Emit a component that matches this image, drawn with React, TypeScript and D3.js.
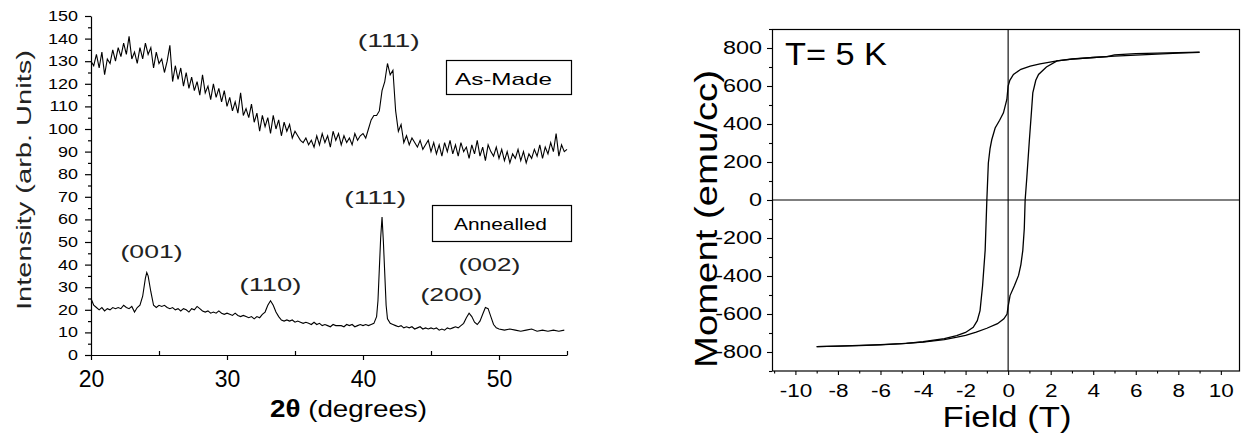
import * as d3 from 'd3';
import { useEffect, useRef } from 'react';

const FONT = '"Liberation Sans", Arial, sans-serif';

// XRD, as-made film: one reading every 0.2 degrees from 20.0 to 55.0
const asMadeStart = 20;
const asMadeStep = 0.2;
const asMade = [
  130, 128, 133, 127, 134, 124, 131, 129, 135, 130, // 20
  136, 132, 138, 133, 141, 131, 134, 129, 136, 131, // 22
  138, 133, 136, 127, 134, 129, 131, 125, 130, 137, // 24
  121, 128, 122, 127, 119, 125, 118, 123, 117, 121, // 26
  115, 124, 116, 119, 113, 120, 114, 118, 112, 117, // 28
  110, 114, 108, 112, 107, 116, 106, 109, 105, 111, // 30
  103, 107, 99, 106, 101, 105, 98, 106, 100, 104, // 32
  97, 103, 99, 102, 96, 99, 97, 95, 94, 96, // 34
  93, 95, 92, 97, 93, 98, 94, 97, 92, 99, // 36
  95, 98, 93, 97, 94, 96, 93, 98, 95, 97, // 38
  98, 96, 100, 104, 106, 106, 108, 117, 121, 129, // 40
  124, 126, 108, 99, 102, 94, 97, 93, 96, 94, // 42
  92, 95, 91, 93, 95, 90, 94, 89, 93, 88, // 44
  94, 90, 95, 89, 93, 88, 94, 90, 92, 87, // 46
  93, 89, 95, 88, 92, 86, 93, 90, 88, 92, // 48
  87, 91, 86, 90, 85, 89, 87, 91, 86, 90, // 50
  85, 89, 87, 91, 88, 93, 87, 92, 89, 94, // 52
  90, 98, 88, 93, 90, 91 // 54
];

// XRD, annealed film: [2theta, intensity]
const annealed: [number, number][] = [
  [20.0, 25], [20.2, 22], [20.4, 21], [20.6, 20], [20.8, 21], [21.0, 19.5], [21.2, 20.5],
  [21.4, 20], [21.6, 21], [21.8, 20.5], [22.0, 21], [22.2, 20.5], [22.4, 22], [22.6, 21],
  [22.8, 20.5], [23.0, 21.5], [23.2, 19], [23.4, 21], [23.6, 22], [23.8, 26], [24.0, 34],
  [24.1, 36.5], [24.2, 35], [24.4, 28], [24.6, 22], [24.8, 21], [25.0, 22], [25.2, 21.5],
  [25.4, 22], [25.6, 21], [25.8, 20.5], [26.0, 21], [26.2, 20], [26.4, 20.5], [26.6, 19.5],
  [26.8, 20.5], [27.0, 20], [27.2, 19], [27.4, 20.5], [27.6, 20], [27.8, 21.5], [28.0, 20.5],
  [28.2, 19.5], [28.4, 19], [28.6, 19.5], [28.8, 18.5], [29.0, 19], [29.2, 18.5], [29.4, 19.5],
  [29.6, 18.5], [29.8, 18], [30.0, 18.5], [30.2, 18], [30.4, 17.5], [30.6, 18.5], [30.8, 17.5],
  [31.0, 17], [31.2, 17.5], [31.4, 17], [31.6, 16.5], [31.8, 17], [32.0, 16], [32.2, 17],
  [32.4, 16.5], [32.6, 18], [32.8, 19], [33.0, 22], [33.2, 24], [33.4, 22], [33.6, 19],
  [33.8, 17], [34.0, 15.5], [34.2, 15], [34.4, 15.5], [34.6, 15], [34.8, 15.5], [35.0, 14.5],
  [35.2, 15], [35.4, 14.5], [35.6, 14], [35.8, 14.5], [36.0, 14], [36.2, 13.5], [36.4, 14.5],
  [36.6, 13.5], [36.8, 14], [37.0, 13], [37.2, 13.5], [37.4, 13], [37.6, 12.5], [37.8, 13.5],
  [38.0, 13], [38.4, 13], [38.6, 12.5], [38.8, 13.5], [39.0, 13], [39.2, 13.5], [39.4, 12.5],
  [39.6, 13], [39.8, 13.5], [40.0, 13], [40.2, 13.5], [40.4, 13], [40.6, 13.5], [40.8, 14],
  [41.0, 17], [41.1, 24], [41.2, 38], [41.3, 52], [41.4, 61], [41.5, 50], [41.6, 36],
  [41.7, 22], [41.8, 16], [42.0, 14], [42.2, 13.5], [42.4, 13], [42.6, 12.5], [42.8, 13],
  [43.0, 12], [43.2, 12.5], [43.4, 12], [43.6, 12.5], [43.8, 11.5], [44.0, 12], [44.2, 12.5],
  [44.4, 11.5], [44.6, 12], [44.8, 11.5], [45.0, 12], [45.2, 11.5], [45.4, 12], [45.6, 11],
  [45.8, 11.5], [46.0, 11], [46.2, 12], [46.4, 11.5], [46.6, 12], [46.8, 12.5], [47.0, 12],
  [47.2, 13], [47.4, 14], [47.6, 16.5], [47.8, 18.5], [48.0, 17], [48.2, 14.5], [48.4, 13.5],
  [48.6, 15], [48.8, 18], [49.0, 21], [49.2, 20.5], [49.4, 17], [49.6, 13.5], [49.8, 12],
  [50.0, 11.5], [50.4, 11], [50.8, 11.5], [51.2, 11], [51.6, 10.5], [52.0, 11], [52.4, 11.5],
  [52.8, 10.5], [53.2, 11], [53.6, 10.5], [54.0, 11], [54.4, 10.5], [54.8, 11]
];

// peak annotations: label, 2theta of label centre, intensity of label baseline
const peakLabels = ['(111)', '(111)', '(001)', '(110)', '(200)', '(002)'];
const peakTheta = [41.9, 40.9, 24.45, 33.2, 46.5, 49.3];
const peakLevel = [136.5, 66.8, 43, 28.3, 23.9, 37.2];

// M(H) loop at 5 K: [field T, moment emu/cc]
const branchDown: [number, number][] = [
  [9, 778], [8, 776], [7, 773], [6, 770], [5, 764], [4.65, 755], [4, 750], [3, 741],
  [2.3, 732], [1.5, 716], [1.04, 705], [0.6, 688], [0.25, 661], [0.08, 630], [0, 600],
  [-0.06, 529], [-0.22, 459], [-0.4, 420], [-0.61, 379], [-0.77, 317], [-0.85, 270],
  [-0.93, 195], [-1.0, 0], [-1.08, -265], [-1.2, -450], [-1.32, -582], [-1.45, -635],
  [-1.64, -670], [-2.0, -697], [-2.42, -714], [-3, -730], [-4, -746], [-4.78, -755],
  [-6, -762], [-7, -766], [-8, -769], [-9, -772]
];
const branchUp: [number, number][] = [
  [-9, -772], [-8, -769], [-7, -765], [-6, -761], [-5, -756], [-4, -748], [-3, -735],
  [-2.4, -722], [-2, -712], [-1.5, -695], [-1, -675], [-0.5, -651], [-0.2, -625],
  [-0.05, -600], [0, -560], [0.05, -530], [0.09, -503], [0.3, -450], [0.49, -397],
  [0.6, -340], [0.69, -265], [0.76, -150], [0.8, 0], [0.88, 120], [1.0, 317], [1.1, 470],
  [1.16, 564], [1.3, 630], [1.43, 661], [1.8, 700], [2.3, 732], [3, 742], [4, 750],
  [5, 757], [6, 763], [7, 768], [8, 773], [9, 777]
];

const xrdTicksY = d3.range(0, 151, 10);
const xrdTicksX = [20, 30, 40, 50];
const loopTicksY = d3.range(-800, 801, 200);
const loopTicksX = d3.range(-10, 11, 2);

// plain hyphen minus like the original, not d3's U+2212
const plain = (d: any) => String(d);

function stretch(sel: any, k: number) {
  sel.each(function (this: SVGTextElement) {
    const w = this.getComputedTextLength();
    this.setAttribute('textLength', String(w * k));
    this.setAttribute('lengthAdjust', 'spacingAndGlyphs');
  });
}

function label(g: any, txt: string, x: number, y: number, size: number, len: number, anchor = 'middle') {
  return g.append('text')
    .attr('x', x).attr('y', y)
    .attr('font-size', size)
    .attr('font-family', FONT)
    .attr('text-anchor', anchor)
    .attr('textLength', len)
    .attr('lengthAdjust', 'spacingAndGlyphs')
    .text(txt);
}

export default function App() {
  const ref = useRef<SVGSVGElement>(null);

  useEffect(() => {
    document.body.style.margin = '0';
    const svg = d3.select(ref.current);
    svg.selectAll('*').remove();
    svg.append('rect').attr('width', 1241).attr('height', 435).attr('fill', '#fff');

    // ---------- left: XRD ----------
    const x = d3.scaleLinear().domain([20, 55]).range([91, 567]);
    const y = d3.scaleLinear().domain([0, 150]).range([355, 16]);
    const left = svg.append('g');

    const yAx = left.append('g').attr('transform', 'translate(91,0)')
      .call(d3.axisLeft(y).tickValues(xrdTicksY).tickFormat(plain).tickSize(6).tickSizeOuter(0).tickPadding(7));
    yAx.attr('font-size', 14).attr('font-family', FONT);
    stretch(yAx.selectAll('text'), 1.28);
    left.append('g').attr('transform', 'translate(91,0)')
      .call(d3.axisLeft(y).tickValues(d3.range(5, 150, 10)).tickSize(3).tickFormat(() => ''))
      .select('.domain').remove();

    const xAx = left.append('g').attr('transform', 'translate(0,355)')
      .call(d3.axisBottom(x).tickValues(xrdTicksX).tickFormat(plain).tickSize(5).tickSizeOuter(0).tickPadding(11));
    xAx.attr('font-size', 23).attr('font-family', FONT);
    left.append('g').attr('transform', 'translate(0,355)')
      .call(d3.axisBottom(x).tickValues([25, 35, 45, 55]).tickSize(-4).tickFormat(() => ''))
      .select('.domain').remove();
    left.selectAll('.domain, .tick line').attr('stroke', '#000').attr('stroke-width', 1.2);

    const xrdLine = d3.line<[number, number]>().x(d => x(d[0])).y(d => y(d[1]));
    const asMadePts: [number, number][] = asMade.map((v, i) => [asMadeStart + i * asMadeStep, v]);
    left.append('path').attr('d', xrdLine(asMadePts)).attr('fill', 'none')
      .attr('stroke', '#000').attr('stroke-width', 1.1);
    left.append('path').attr('d', xrdLine(annealed)).attr('fill', 'none')
      .attr('stroke', '#000').attr('stroke-width', 1.1);

    peakLabels.forEach((t, i) => {
      label(left, t, x(peakTheta[i]), y(peakLevel[i]), 19, 62).attr('fill', '#222');
    });

    left.append('rect').attr('x', 446.5).attr('y', 60.5).attr('width', 125).attr('height', 34)
      .attr('fill', '#fff').attr('stroke', '#000').attr('stroke-width', 1.2);
    label(left, 'As-Made', 503.5, 85, 17, 97);
    left.append('rect').attr('x', 432.5).attr('y', 205.5).attr('width', 139).attr('height', 36)
      .attr('fill', '#fff').attr('stroke', '#000').attr('stroke-width', 1.2);
    label(left, 'Annealled', 500.5, 230, 17, 93);

    label(left, 'Intensity (arb. Units)', 0, 0, 20, 260)
      .attr('transform', 'translate(31,180) rotate(-90)').attr('fill', '#222');
    const xl = left.append('text').attr('x', 348.5).attr('y', 417).attr('font-size', 24)
      .attr('font-family', FONT).attr('text-anchor', 'middle')
      .attr('textLength', 157).attr('lengthAdjust', 'spacingAndGlyphs');
    xl.append('tspan').attr('font-weight', 'bold').text('2θ');
    xl.append('tspan').text(' (degrees)');

    // ---------- right: M(H) loop ----------
    const hx = d3.scaleLinear().domain([-11.1, 10.9]).range([772, 1240]);
    const hy = d3.scaleLinear().domain([-900, 900]).range([371, 29]);
    const right = svg.append('g');

    const hyAx = right.append('g').attr('transform', 'translate(772,0)')
      .call(d3.axisLeft(hy).tickValues(loopTicksY).tickFormat(plain).tickSize(5).tickSizeOuter(0).tickPadding(5));
    hyAx.attr('font-size', 18).attr('font-family', FONT);
    stretch(hyAx.selectAll('text'), 1.3);
    hyAx.select('.domain').remove();
    right.append('g').attr('transform', 'translate(772,0)')
      .call(d3.axisLeft(hy).tickValues(d3.range(-900, 901, 200)).tickSize(3).tickFormat(() => ''))
      .select('.domain').remove();

    const hxAx = right.append('g').attr('transform', 'translate(0,371)')
      .call(d3.axisBottom(hx).tickValues(loopTicksX).tickFormat(plain).tickSize(4).tickSizeOuter(0).tickPadding(9));
    hxAx.attr('font-size', 18).attr('font-family', FONT);
    stretch(hxAx.selectAll('text'), 1.25);
    hxAx.select('.domain').remove();
    right.append('g').attr('transform', 'translate(0,371)')
      .call(d3.axisBottom(hx).tickValues(d3.range(-11, 11, 2)).tickSize(2.5).tickFormat(() => ''))
      .select('.domain').remove();
    right.selectAll('.tick line').attr('stroke', '#000').attr('stroke-width', 1.1);

    right.append('rect').attr('x', 772.5).attr('y', 29.5).attr('width', 467).attr('height', 341.5)
      .attr('fill', 'none').attr('stroke', '#000').attr('stroke-width', 1.2);
    right.append('line').attr('x1', hx(0)).attr('x2', hx(0)).attr('y1', 29).attr('y2', 371)
      .attr('stroke', '#000').attr('stroke-width', 1.1);
    right.append('line').attr('x1', 772).attr('x2', 1240).attr('y1', hy(0)).attr('y2', hy(0))
      .attr('stroke', '#000').attr('stroke-width', 1.1);

    const loopLine = d3.line<[number, number]>().x(d => hx(d[0])).y(d => hy(d[1]));
    right.append('path').attr('d', loopLine(branchDown)).attr('fill', 'none')
      .attr('stroke', '#000').attr('stroke-width', 1.3);
    right.append('path').attr('d', loopLine(branchUp)).attr('fill', 'none')
      .attr('stroke', '#000').attr('stroke-width', 1.3);

    label(right, 'T= 5 K', 785, 65, 32, 102, 'start');
    label(right, 'Field (T)', 1007, 427, 30, 129);
    label(right, 'Moment (emu/cc)', 0, 0, 31, 298)
      .attr('transform', 'translate(717,219) rotate(-90)');
  }, []);

  return <svg ref={ref} width={1241} height={435} style={{ display: 'block' }} />;
}
